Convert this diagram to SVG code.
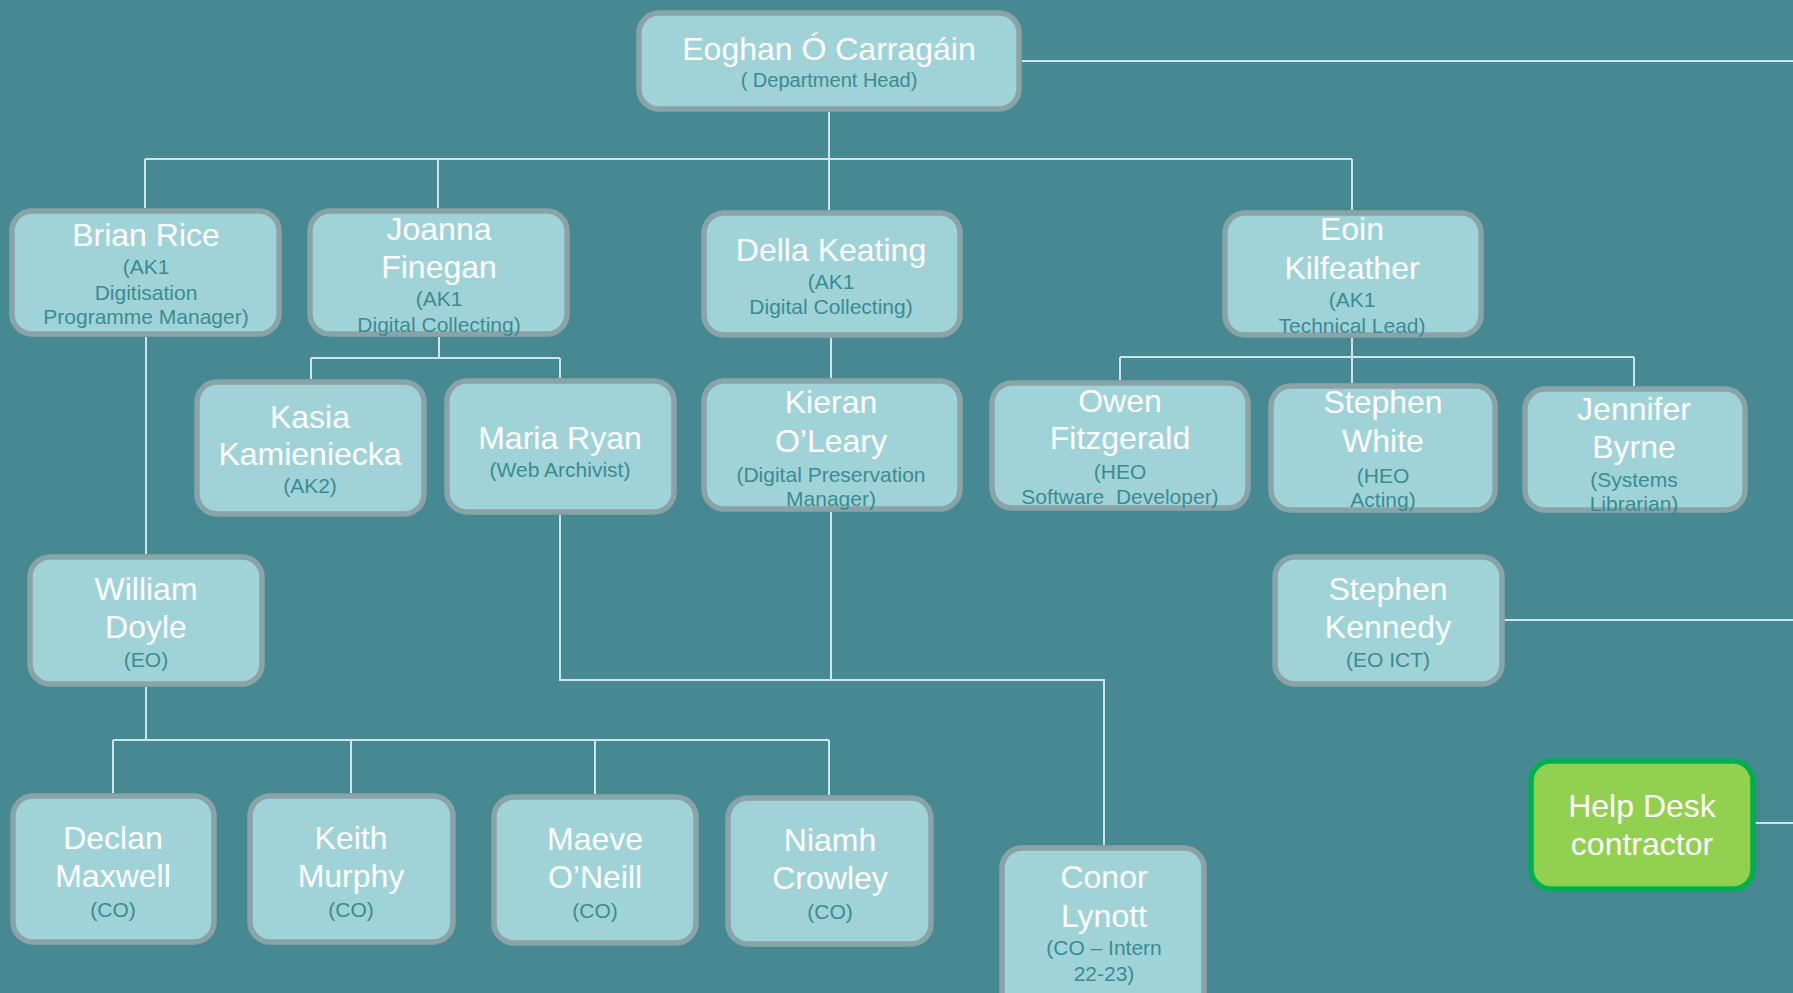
<svg xmlns="http://www.w3.org/2000/svg" width="1793" height="993" viewBox="0 0 1793 993">
<style>
.box{fill:#A0D3D8;stroke:#8AA3A6;stroke-width:5.5}
.green{fill:#92D050;stroke:#00B050;stroke-width:5.5}
.name{font-family:"Liberation Sans",Arial,sans-serif;font-size:32px;fill:#FFFFFF;text-anchor:middle}
.sub{font-family:"Liberation Sans",Arial,sans-serif;font-size:21px;fill:#3A8C92;text-anchor:middle}
.conn{fill:none;stroke:#CDE6EA;stroke-width:2}
</style>
<rect x="0" y="0" width="1793" height="993" fill="#468993"/>
<g id="connectors" class="conn">
<path d="M1022,61 H1793"/>
<path d="M829,112 V159 M145,159 H1352 M145,159 V208 M438,159 V208 M829,159 V210 M1352,159 V210"/>
<path d="M146,337 V554"/>
<path d="M439,337 V358 M311,358 H560 M311,358 V379 M560,358 V378"/>
<path d="M831,338 V378"/>
<path d="M1352,338 V383 M1120,357 H1634 M1120,357 V380 M1634,357 V386"/>
<path d="M560,515 V680 H1104 V845 M831,512 V680"/>
<path d="M146,687 V740 M113,740 H829 M113,740 V793 M351,740 V793 M595,740 V794 M829,740 V795"/>
<path d="M1504,620 H1793"/>
<path d="M1755,823 H1793"/>
</g>
<g id="eoghan">
<rect class="box" x="639" y="13" width="380" height="96" rx="20"/>
<text class="name" x="829" y="60">Eoghan Ó Carragáin</text>
<text class="sub" x="829" y="87" style="font-size:20px">( Department Head)</text>
</g>
<g id="brian">
<rect class="box" x="12" y="211" width="267" height="123" rx="20"/>
<text class="name" x="146" y="246">Brian Rice</text>
<text class="sub" x="146" y="274">(AK1</text>
<text class="sub" x="146" y="300">Digitisation</text>
<text class="sub" x="146" y="324">Programme Manager)</text>
</g>
<g id="joanna">
<rect class="box" x="310" y="211" width="257" height="123" rx="20"/>
<text class="name" x="439" y="240">Joanna</text>
<text class="name" x="439" y="278">Finegan</text>
<text class="sub" x="439" y="306">(AK1</text>
<text class="sub" x="439" y="332">Digital Collecting)</text>
</g>
<g id="della">
<rect class="box" x="704" y="213" width="256" height="122" rx="20"/>
<text class="name" x="831" y="261">Della Keating</text>
<text class="sub" x="831" y="289">(AK1</text>
<text class="sub" x="831" y="314">Digital Collecting)</text>
</g>
<g id="eoin">
<rect class="box" x="1225" y="213" width="256" height="122" rx="20"/>
<text class="name" x="1352" y="240">Eoin</text>
<text class="name" x="1352" y="279">Kilfeather</text>
<text class="sub" x="1352" y="307">(AK1</text>
<text class="sub" x="1352" y="333">Technical Lead)</text>
</g>
<g id="kasia">
<rect class="box" x="197" y="382" width="227" height="132" rx="20"/>
<text class="name" x="310" y="428">Kasia</text>
<text class="name" x="310" y="465">Kamieniecka</text>
<text class="sub" x="310" y="493">(AK2)</text>
</g>
<g id="maria">
<rect class="box" x="447" y="381" width="227" height="131" rx="20"/>
<text class="name" x="560" y="449">Maria Ryan</text>
<text class="sub" x="560" y="477">(Web Archivist)</text>
</g>
<g id="kieran">
<rect class="box" x="704" y="381" width="256" height="128" rx="20"/>
<text class="name" x="831" y="413">Kieran</text>
<text class="name" x="831" y="452">O’Leary</text>
<text class="sub" x="831" y="482">(Digital Preservation</text>
<text class="sub" x="831" y="506">Manager)</text>
</g>
<g id="owen">
<rect class="box" x="992" y="383" width="256" height="125" rx="20"/>
<text class="name" x="1120" y="412">Owen</text>
<text class="name" x="1120" y="449">Fitzgerald</text>
<text class="sub" x="1120" y="479">(HEO</text>
<text class="sub" x="1120" y="504" xml:space="preserve" style="white-space:pre">Software  Developer)</text>
</g>
<g id="stephen-white">
<rect class="box" x="1271" y="386" width="224" height="124" rx="20"/>
<text class="name" x="1383" y="413">Stephen</text>
<text class="name" x="1383" y="452">White</text>
<text class="sub" x="1383" y="483">(HEO</text>
<text class="sub" x="1383" y="507">Acting)</text>
</g>
<g id="jennifer">
<rect class="box" x="1525" y="389" width="220" height="121" rx="20"/>
<text class="name" x="1634" y="420">Jennifer</text>
<text class="name" x="1634" y="458">Byrne</text>
<text class="sub" x="1634" y="487">(Systems</text>
<text class="sub" x="1634" y="511">Librarian)</text>
</g>
<g id="william">
<rect class="box" x="30" y="557" width="232" height="127" rx="20"/>
<text class="name" x="146" y="600">William</text>
<text class="name" x="146" y="638">Doyle</text>
<text class="sub" x="146" y="667">(EO)</text>
</g>
<g id="stephen-kennedy">
<rect class="box" x="1275" y="557" width="227" height="127" rx="20"/>
<text class="name" x="1388" y="600">Stephen</text>
<text class="name" x="1388" y="638">Kennedy</text>
<text class="sub" x="1388" y="667">(EO ICT)</text>
</g>
<g id="helpdesk">
<rect class="green" x="1531" y="761" width="222" height="128" rx="20"/>
<text class="name" x="1642" y="817">Help Desk</text>
<text class="name" x="1642" y="855">contractor</text>
</g>
<g id="declan">
<rect class="box" x="13" y="796" width="201" height="146" rx="20"/>
<text class="name" x="113" y="849">Declan</text>
<text class="name" x="113" y="887">Maxwell</text>
<text class="sub" x="113" y="917">(CO)</text>
</g>
<g id="keith">
<rect class="box" x="250" y="796" width="203" height="146" rx="20"/>
<text class="name" x="351" y="849">Keith</text>
<text class="name" x="351" y="887">Murphy</text>
<text class="sub" x="351" y="917">(CO)</text>
</g>
<g id="maeve">
<rect class="box" x="494" y="797" width="202" height="146" rx="20"/>
<text class="name" x="595" y="850">Maeve</text>
<text class="name" x="595" y="888">O’Neill</text>
<text class="sub" x="595" y="918">(CO)</text>
</g>
<g id="niamh">
<rect class="box" x="728" y="798" width="203" height="146" rx="20"/>
<text class="name" x="830" y="851">Niamh</text>
<text class="name" x="830" y="889">Crowley</text>
<text class="sub" x="830" y="919">(CO)</text>
</g>
<g id="conor">
<rect class="box" x="1002" y="848" width="202" height="165" rx="20"/>
<text class="name" x="1104" y="888">Conor</text>
<text class="name" x="1104" y="927">Lynott</text>
<text class="sub" x="1104" y="955">(CO – Intern</text>
<text class="sub" x="1104" y="981">22-23)</text>
</g>
</svg>
